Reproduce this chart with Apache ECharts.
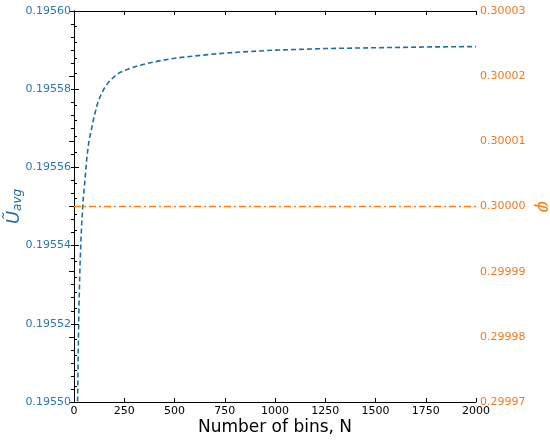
<!DOCTYPE html>
<html>
<head>
<meta charset="utf-8">
<script src="https://cdn.jsdelivr.net/npm/echarts@6/dist/echarts.min.js"></script>
<style>
html, body { margin: 0; padding: 0; background: #fff; }
#chart { width: 550px; height: 441px; }
</style>
</head>
<body>
<div id="chart"></div>
<script>
/* values */
var binsN = [17, 18, 20, 22, 25, 30, 35, 40, 46, 55, 65, 75, 88, 100, 115, 129, 150, 175, 196, 225, 262, 300, 362, 430, 511, 600, 677, 750, 826, 1000, 1250, 1500, 1750, 2000];
var uAvg = [0.195494, 0.195500, 0.195509, 0.195516, 0.195525, 0.195535, 0.195542, 0.195547, 0.195552, 0.195557, 0.195563, 0.195567, 0.195570, 0.195573, 0.195576, 0.195578, 0.1955802, 0.195582, 0.195583, 0.1955842, 0.195585, 0.1955857, 0.1955866, 0.1955873, 0.195588, 0.1955885, 0.1955889, 0.1955892, 0.1955895, 0.19559, 0.1955904, 0.1955906, 0.1955908, 0.1955909];
var phiN = [0, 2000];
var phiVal = [0.30000, 0.30000];

var blue = '#1f6fa3';
var orange = '#ff7f0e';

var uData = binsN.map(function(n, i){ return [n, uAvg[i]]; });
var phiData = phiN.map(function(n, i){ return [n, phiVal[i]]; });

var chart = echarts.init(document.getElementById('chart'));
var option = {
	animation: false,
	textStyle: { fontFamily: 'DejaVu Sans' },
	grid: { left: 74, right: 74, top: 11, bottom: 39, containLabel: false, outerBoundsMode: 'none' },
	xAxis: [
		{
			type: 'value', min: 0, max: 2000, interval: 250,
			name: 'Number of bins, N', nameLocation: 'middle', nameGap: 17, nameMoveOverlap: false,
			nameTextStyle: { fontSize: 17, color: '#000' },
			axisLine: { lineStyle: { color: '#000', width: 1 } },
			axisTick: { inside: true, length: 4, lineStyle: { color: '#000' } },
			axisLabel: { color: '#000', fontSize: 11, margin: 4, formatter: function(v){ return String(v); } },
			splitLine: { show: false }
		},
		{
			type: 'value', position: 'top', min: 0, max: 2000, interval: 250,
			axisLine: { lineStyle: { color: '#000', width: 1 } },
			axisTick: { inside: true, length: 4, lineStyle: { color: '#000' } },
			axisLabel: { show: false },
			splitLine: { show: false }
		}
	],
	yAxis: [
		{
			type: 'value', min: 0.19550, max: 0.19560, interval: 0.00002,
			name: '{u|Ũ}{s|avg}', nameLocation: 'middle', nameGap: 50, nameMoveOverlap: false,
			nameTextStyle: {
				rich: {
					u: { fontSize: 18, fontStyle: 'italic', color: blue, fontFamily: 'DejaVu Sans' },
					s: { fontSize: 12, fontStyle: 'italic', color: blue, fontFamily: 'DejaVu Sans', verticalAlign: 'bottom', padding: [8, 0, 0, 0] }
				}
			},
			axisLine: { lineStyle: { color: '#000', width: 1 } },
			axisTick: { inside: true, length: 5, lineStyle: { color: '#000' } },
			minorTick: { show: true, splitNumber: 5, length: 3, lineStyle: { color: '#000' } },
			axisLabel: { color: '#2a78ad', fontSize: 11, margin: 3, formatter: function(v){ return v.toFixed(5); } },
			splitLine: { show: false }
		},
		{
			type: 'value', min: 0.29997, max: 0.30003, interval: 0.00001,
			name: 'φ', nameLocation: 'middle', nameGap: 58, nameRotate: -90, nameMoveOverlap: false,
			nameTextStyle: { fontSize: 18, fontStyle: 'italic', color: orange },
			axisLine: { lineStyle: { color: '#000', width: 1 } },
			axisTick: { inside: true, length: 5, lineStyle: { color: '#000' } },
			minorTick: { show: true, splitNumber: 5, length: 3, lineStyle: { color: '#000' } },
			axisLabel: { color: '#f07a1e', fontSize: 11, margin: 4, formatter: function(v){ return v.toFixed(5); } },
			splitLine: { show: false }
		}
	],
	series: [
		{
			type: 'line', xAxisIndex: 0, yAxisIndex: 0, data: uData,
			showSymbol: false,
			lineStyle: { color: blue, width: 1.6, type: [5, 3] }
		},
		{
			type: 'line', xAxisIndex: 0, yAxisIndex: 1, data: phiData,
			showSymbol: false,
			lineStyle: { color: orange, width: 1.6, type: [7, 3, 2, 3] }
		}
	]
};
chart.setOption(option);
</script>
</body>
</html>
